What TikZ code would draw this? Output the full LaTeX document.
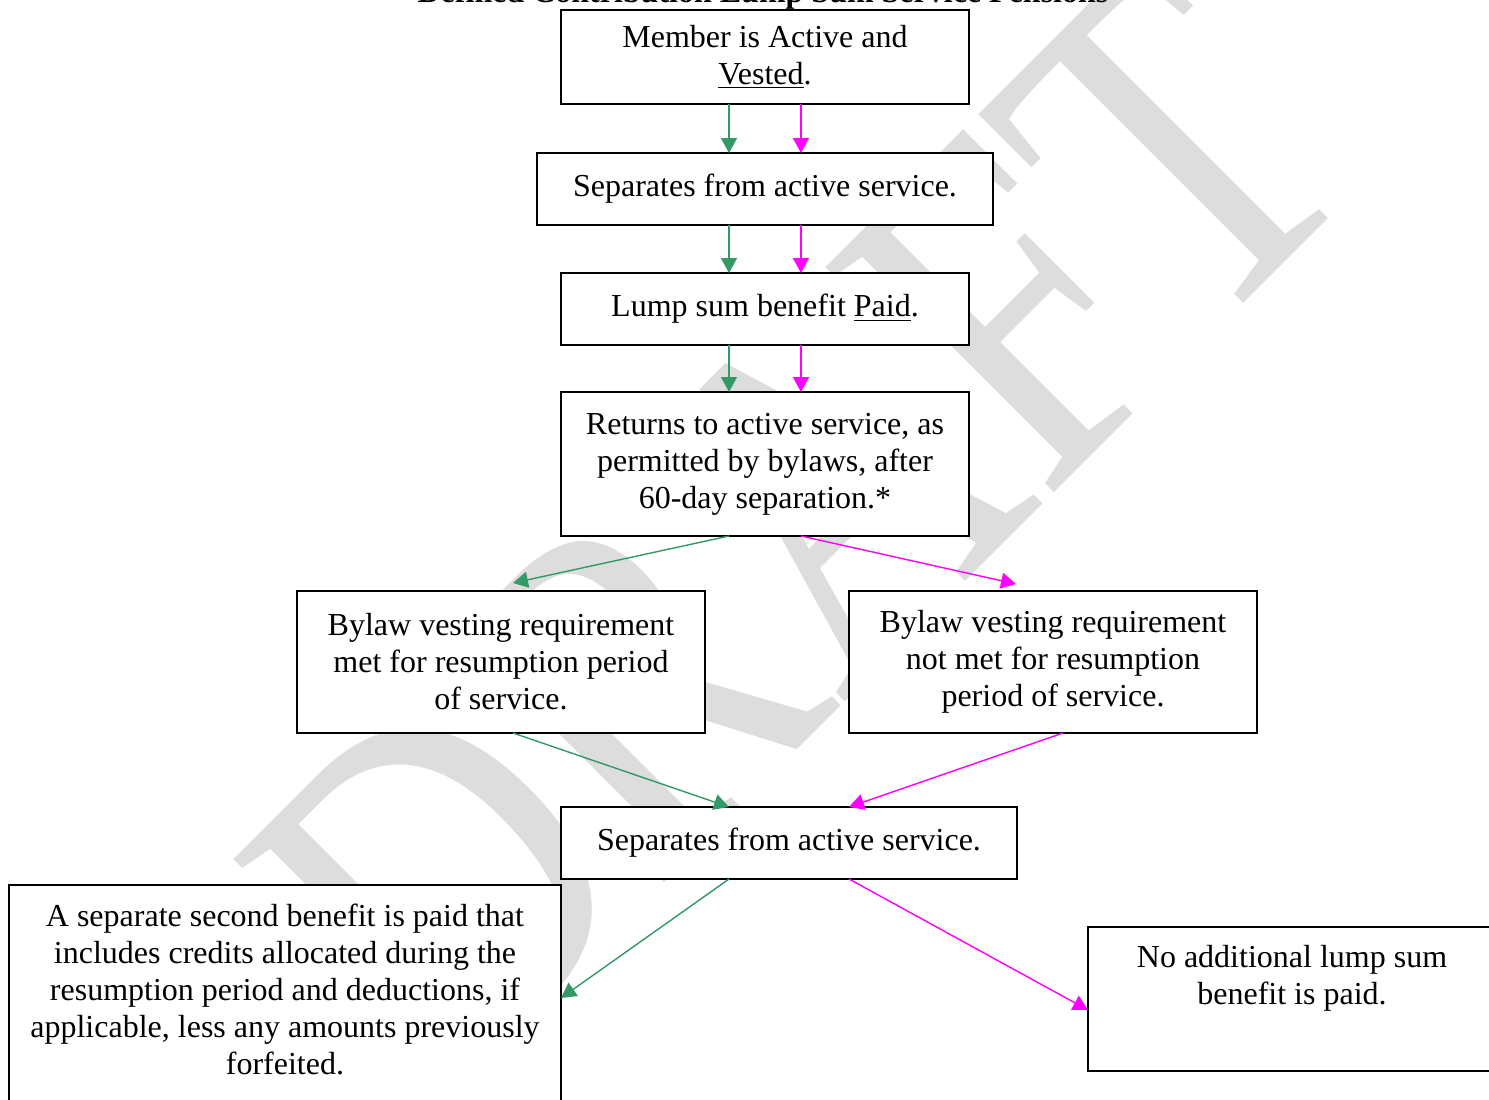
\documentclass[tikz,border=0pt]{standalone}
\usepackage{fontspec}
\setmainfont{Liberation Serif}
\usetikzlibrary{arrows.meta,positioning}
\definecolor{flowgreen}{HTML}{339966}
\definecolor{flowpink}{HTML}{FF00FF}
\definecolor{draftgray}{HTML}{DDDDDD}

\begin{document}
\begin{tikzpicture}[node distance=2cm,
  font=\fontsize{16}{18.5}\selectfont]
  \tikzstyle{flowbox}=[draw, fill=white, line width=1pt, rectangle, align=center, inner sep=0pt, outer sep=0pt,
    font=\fontsize{16}{18.5}\selectfont]
  \tikzstyle{greenflow}=[-{Triangle[length=7.5pt,width=8pt]}, line width=0.7pt, draw=flowgreen, fill=flowgreen]
  \tikzstyle{pinkflow}=[-{Triangle[length=7.5pt,width=8pt]}, line width=0.7pt, draw=flowpink, fill=flowpink]
  \useasboundingbox (0pt,0pt) rectangle (744.5pt,-549.5pt);

  % watermark
  \node[text=draftgray, inner sep=0pt, anchor=base west, rotate=45, xscale=0.81,
    font=\fontsize{245}{245}\selectfont] (draft) at (226pt,-547.5pt) {DRAFT};

  \node[font=\fontsize{16}{18.5}\selectfont\bfseries, anchor=base] (title) at (381.5pt,-1pt)
    {Defined Contribution Lump Sum Service Pensions};

  \node[flowbox, minimum width=204pt, minimum height=47pt] (member) at (382.5pt,-28.5pt)
    {Member is Active and\\\underline{Vested}.};
  \node[flowbox, minimum width=228pt, minimum height=36pt] (sepone) [below=24.5pt of member]
    {Separates from active service.};
  \node[flowbox, minimum width=204pt, minimum height=36pt] (paid) [below=24pt of sepone]
    {Lump sum benefit \underline{Paid}.};
  \node[flowbox, minimum width=204pt, minimum height=72pt] (returns) [below=23.5pt of paid]
    {Returns to active service, as\\permitted by bylaws, after\\60-day separation.*};

  \node[flowbox, minimum width=204pt, minimum height=71pt] (met) [below=27.5pt of returns, xshift=-132pt]
    {Bylaw vesting requirement\\met for resumption period\\of service.};
  \node[flowbox, minimum width=204pt, minimum height=71pt] (notmet) [below=27.5pt of returns, xshift=144pt]
    {Bylaw vesting requirement\\not met for resumption\\period of service.};

  \node[flowbox, minimum width=228pt, minimum height=36pt] (septwo) [below=37pt of met, xshift=144pt]
    {Separates from active service.};

  \node[flowbox, minimum width=276pt, minimum height=128pt] (second) [below=3pt of septwo, xshift=-252pt]
    {A separate second benefit is paid that\\includes credits allocated during the\\resumption period and deductions, if\\applicable, less any amounts previously\\forfeited.\\\strut};
  \node[flowbox, minimum width=204pt, minimum height=72pt] (noadd) [below=24pt of septwo, xshift=251.5pt]
    {No additional lump sum\\benefit is paid.\\\strut};

  \draw[greenflow] ([xshift=-18pt]member.south) -- ([xshift=-18pt]sepone.north);
  \draw[pinkflow] ([xshift=18pt]member.south) -- ([xshift=18pt]sepone.north);
  \draw[greenflow] ([xshift=-18pt]sepone.south) -- ([xshift=-18pt]paid.north);
  \draw[pinkflow] ([xshift=18pt]sepone.south) -- ([xshift=18pt]paid.north);
  \draw[greenflow] ([xshift=-18pt]paid.south) -- ([xshift=-18pt]returns.north);
  \draw[pinkflow] ([xshift=18pt]paid.south) -- ([xshift=18pt]returns.north);

  \draw[greenflow] ([xshift=-18pt]returns.south) -- ([xshift=6pt,yshift=4pt]met.north);
  \draw[pinkflow] ([xshift=18pt]returns.south) -- ([xshift=-18.5pt,yshift=3.5pt]notmet.north);

  \draw[greenflow] ([xshift=6pt]met.south) -- ([xshift=-30pt]septwo.north);
  \draw[pinkflow] ([xshift=5pt]notmet.south) -- ([xshift=30pt]septwo.north);

  \draw[greenflow] ([xshift=-30pt]septwo.south) -- ([yshift=7.5pt]second.east);
  \draw[pinkflow] ([xshift=30pt]septwo.south) -- ([yshift=-5.5pt]noadd.west);
\end{tikzpicture}
\end{document}
